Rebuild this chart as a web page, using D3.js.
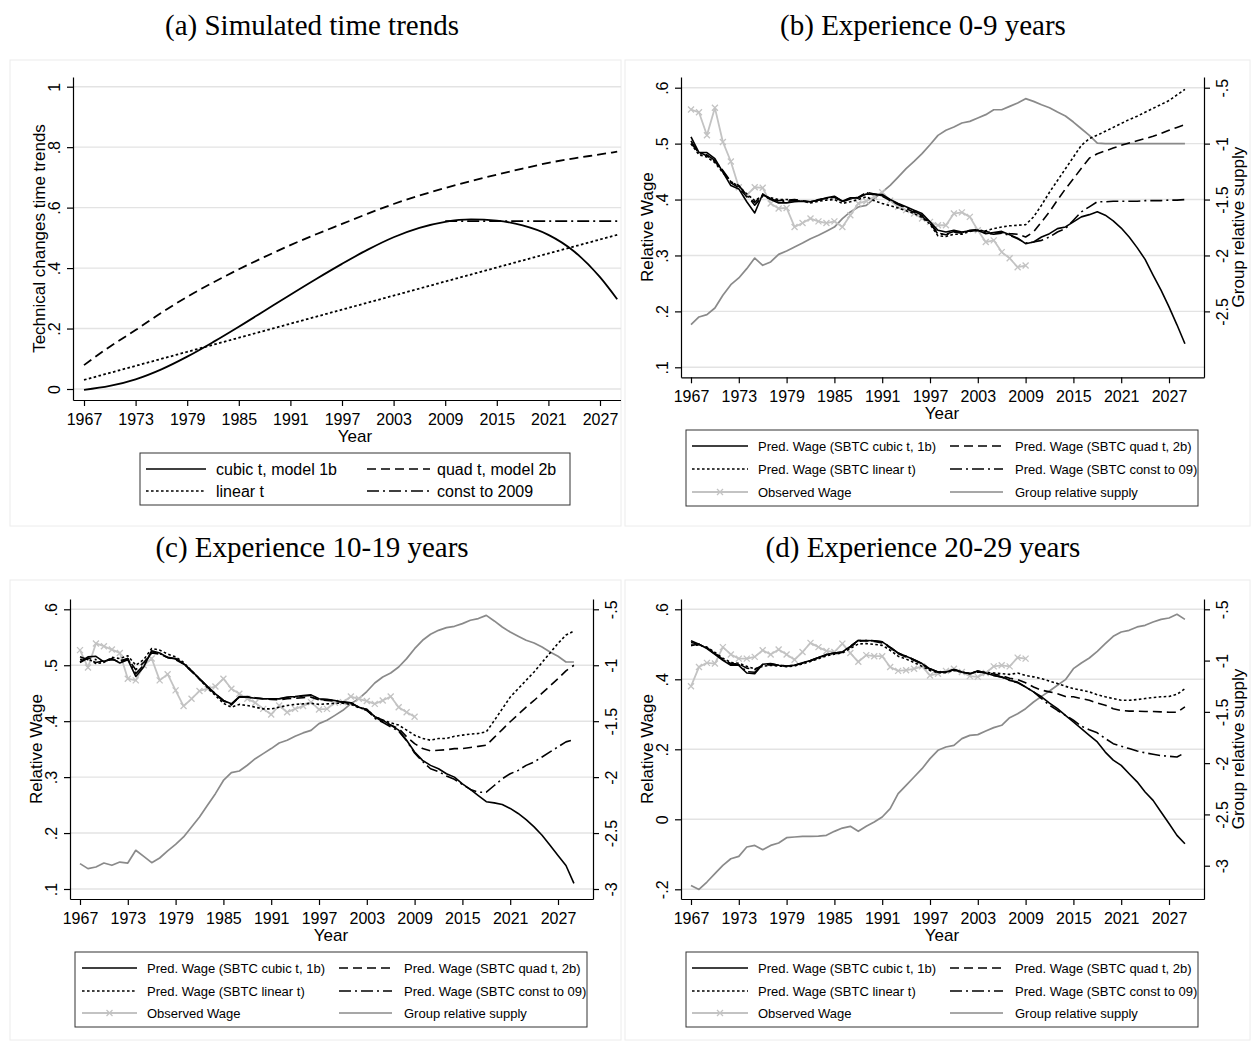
<!DOCTYPE html>
<html lang="en">
<head>
<meta charset="utf-8">
<title>Relative wage simulations</title>
<script src="https://d3js.org/d3.v7.min.js"></script>
<style>
  body { margin: 0; background: #fff; }
  svg { display: block; }
  .title { font-family: "Liberation Serif", "Times New Roman", serif; font-size: 29px; fill: #000; }
  .tick text { font-family: "Liberation Sans", Arial, sans-serif; font-size: 16px; fill: #000; }
  .axis-title { font-family: "Liberation Sans", Arial, sans-serif; font-size: 17px; fill: #000; }
  .legend-text { font-family: "Liberation Sans", Arial, sans-serif; fill: #000; }
  .tick line, .domain { stroke: #000; stroke-width: 1.2; }
  .grid { stroke: #e3e3e3; stroke-width: 1.4; }
</style>
</head>
<body>
<div id="vis"></div>
<script>

/* Data */
/* ==== */

var years = [1967,1968,1969,1970,1971,1972,1973,1974,1975,1976,1977,1978,1979,1980,1981,1982,1983,1984,1985,1986,
  1987,1988,1989,1990,1991,1992,1993,1994,1995,1996,1997,1998,1999,2000,2001,2002,2003,2004,2005,2006,
  2007,2008,2009,2010,2011,2012,2013,2014,2015,2016,2017,2018,2019,2020,2021,2022,2023,2024,2025,2026,
  2027,2028,2029];
var obsYears = years.slice(0, 43); // observed wage runs 1967-2009
var tickYears = [1967,1973,1979,1985,1991,1997,2003,2009,2015,2021,2027];

// (a) simulated time trends
var aYears = [1967,1970,1973,1976,1979,1982,1985,1988,1991,1994,1997,2000,2003,2006,2009,2012,2015,2018,2021,2024,2027,2029];
var aCubic = [-0.003,0.010,0.032,0.065,0.107,0.155,0.206,0.259,0.312,0.364,0.414,0.461,0.502,0.533,0.553,0.561,0.557,0.541,0.510,0.455,0.370,0.297];
var aQuad  = [0.079,0.140,0.195,0.252,0.305,0.352,0.396,0.437,0.476,0.512,0.546,0.580,0.612,0.640,0.665,0.688,0.709,0.729,0.748,0.763,0.776,0.785];
var aLinearYears = [1967,1979,1991,2003,2015,2029];
var aLinear = [0.030,0.123,0.216,0.309,0.402,0.510];
var aConstYears = [2009,2029];
var aConst = [0.555,0.555];

// (b) experience 0-9 years
var bCubic = [.512,.484,.484,.473,.449,.425,.419,.396,.376,.410,
  .400,.394,.394,.396,.397,.396,.399,.403,.406,.397,
  .403,.403,.410,.409,.409,.400,.393,.387,.381,.375,
  .360,.345,.342,.345,.342,.344,.345,.339,.341,.343,
  .337,.331,.321,.324,.333,.339,.348,.351,.360,.369,
  .373,.378,.372,.362,.349,.333,.314,.293,.265,.238,
  .208,.176,.142];
var bQuad = [.500,.485,.478,.468,.450,.430,.421,.405,.395,.408,
  .402,.398,.399,.400,.398,.396,.400,.402,.404,.396,
  .401,.403,.413,.410,.406,.398,.391,.384,.377,.370,
  .358,.340,.337,.342,.340,.345,.346,.343,.340,.341,
  .339,.338,.333,.342,.360,.378,.399,.419,.437,.456,
  .474,.482,.487,.492,.497,.501,.505,.509,.513,.518,
  .524,.529,.534];
var bLinear = [.500,.480,.476,.466,.448,.432,.424,.410,.398,.407,
  .403,.400,.400,.399,.397,.394,.397,.399,.400,.393,
  .396,.400,.405,.398,.393,.389,.385,.380,.375,.368,
  .356,.335,.334,.338,.338,.343,.345,.344,.348,.351,
  .353,.354,.355,.369,.390,.413,.434,.455,.476,.497,
  .509,.515,.522,.529,.536,.543,.549,.556,.563,.570,
  .577,.587,.597];
var bConst = [.505,.482,.480,.470,.452,.432,.425,.408,.390,.406,
  .401,.397,.397,.398,.397,.396,.399,.402,.405,.397,
  .402,.404,.412,.410,.407,.399,.392,.386,.379,.372,
  .358,.338,.338,.343,.341,.344,.345,.340,.338,.340,
  .336,.330,.322,.324,.327,.333,.342,.348,.363,.378,
  .387,.396,.396,.397,.397,.397,.397,.398,.398,.398,
  .399,.399,.400];
var bObs = [.561,.556,.515,.564,.503,.468,.422,.408,.422,.421,
  .393,.384,.385,.351,.358,.366,.361,.358,.361,.351,
  .372,.393,.397,.405,.413,.398,.387,.381,.375,.366,
  .360,.354,.354,.375,.377,.369,.345,.324,.327,.306,
  .295,.279,.282];
var bSupply = [-2.619,-2.550,-2.529,-2.470,-2.356,-2.261,-2.201,-2.118,-2.023,-2.088,
  -2.058,-1.990,-1.960,-1.924,-1.889,-1.850,-1.820,-1.784,-1.746,-1.671,
  -1.611,-1.567,-1.552,-1.492,-1.433,-1.373,-1.299,-1.224,-1.159,-1.090,
  -1.010,-0.926,-0.881,-0.852,-0.816,-0.801,-0.771,-0.741,-0.697,-0.697,
  -0.667,-0.637,-0.598,-0.622,-0.652,-0.679,-0.718,-0.753,-0.807,-0.867,
  -0.926,-0.995,-1.000,-1.000,-1.000,-1.000,-1.000,-1.000,-1.000,-1.000,
  -1.000,-1.000,-1.000];

// (c) experience 10-19 years
var cCubic = [.506,.515,.516,.506,.512,.504,.510,.480,.497,.526,
  .522,.514,.512,.503,.490,.476,.462,.449,.437,.431,
  .444,.443,.441,.440,.440,.440,.443,.444,.446,.447,
  .440,.439,.437,.434,.433,.425,.421,.408,.402,.393,
  .384,.366,.345,.330,.321,.315,.306,.300,.288,.278,
  .267,.256,.254,.251,.244,.235,.224,.211,.196,.178,
  .160,.142,.110];
var cQuad = [.515,.510,.505,.508,.510,.508,.512,.492,.505,.522,
  .520,.514,.510,.502,.489,.475,.461,.448,.436,.429,
  .443,.444,.442,.440,.439,.438,.440,.441,.442,.443,
  .438,.437,.436,.434,.432,.425,.419,.408,.399,.393,
  .387,.372,.360,.351,.347,.348,.349,.351,.351,.353,
  .355,.357,.371,.385,.399,.412,.425,.437,.450,.463,
  .476,.490,.500];
var cLinear = [.510,.512,.503,.505,.514,.512,.517,.500,.510,.530,
  .527,.520,.515,.505,.490,.475,.460,.446,.432,.425,
  .430,.428,.425,.422,.422,.425,.428,.430,.431,.432,
  .430,.431,.432,.432,.430,.424,.421,.408,.402,.397,
  .393,.384,.375,.369,.366,.369,.369,.373,.375,.377,
  .378,.381,.401,.422,.443,.458,.473,.488,.505,.522,
  .539,.554,.561];
var cConst = [.505,.513,.510,.507,.511,.505,.512,.485,.500,.524,
  .521,.514,.511,.503,.490,.476,.462,.449,.437,.430,
  .443,.443,.441,.440,.440,.440,.442,.443,.445,.446,
  .439,.438,.437,.434,.433,.425,.421,.405,.398,.390,
  .382,.365,.343,.328,.315,.310,.302,.296,.287,.278,
  .273,.273,.285,.297,.306,.312,.321,.327,.336,.345,
  .354,.363,.367];
var cObs = [.527,.496,.539,.534,.528,.522,.476,.473,.500,.512,
  .473,.484,.455,.427,.440,.454,.458,.462,.476,.458,
  .449,.440,.433,.422,.412,.428,.416,.422,.427,.434,
  .421,.422,.433,.434,.444,.440,.436,.431,.437,.444,
  .425,.416,.408];
var cSupply = [-2.773,-2.818,-2.803,-2.768,-2.788,-2.759,-2.768,-2.654,-2.708,-2.765,
  -2.723,-2.660,-2.601,-2.535,-2.446,-2.356,-2.252,-2.148,-2.030,-1.960,
  -1.945,-1.894,-1.835,-1.790,-1.745,-1.695,-1.671,-1.635,-1.605,-1.582,
  -1.522,-1.492,-1.448,-1.403,-1.343,-1.299,-1.235,-1.159,-1.105,-1.069,
  -1.016,-0.941,-0.852,-0.777,-0.723,-0.688,-0.664,-0.652,-0.628,-0.598,
  -0.583,-0.554,-0.604,-0.658,-0.703,-0.741,-0.777,-0.801,-0.837,-0.881,
  -0.920,-0.971,-0.971];

// (d) experience 20-29 years
var dCubic = [.510,.500,.488,.471,.454,.440,.440,.418,.416,.443,
  .445,.440,.438,.440,.447,.454,.462,.471,.475,.478,
  .494,.511,.511,.510,.507,.492,.475,.466,.456,.445,
  .430,.421,.421,.428,.421,.416,.424,.418,.411,.407,
  .397,.392,.378,.364,.350,.332,.316,.297,.278,.259,
  .240,.221,.192,.169,.154,.130,.107,.078,.054,.021,
  -.012,-.046,-.070];
var dQuad = [.497,.500,.490,.475,.457,.445,.444,.432,.428,.440,
  .442,.440,.438,.440,.446,.453,.461,.470,.474,.477,
  .492,.509,.510,.508,.504,.490,.473,.464,.454,.443,
  .428,.420,.421,.427,.421,.416,.421,.418,.415,.410,
  .403,.399,.390,.378,.369,.364,.359,.351,.350,.345,
  .340,.332,.326,.316,.311,.309,.309,.308,.308,.307,
  .306,.306,.321];
var dLinear = [.497,.498,.492,.477,.460,.448,.446,.437,.430,.437,
  .440,.438,.436,.438,.444,.451,.459,.467,.472,.475,
  .488,.501,.502,.500,.497,.483,.466,.458,.448,.437,
  .425,.419,.419,.425,.420,.417,.421,.420,.418,.416,
  .414,.418,.411,.407,.402,.395,.388,.380,.373,.369,
  .364,.356,.350,.345,.340,.340,.342,.345,.348,.350,
  .351,.357,.373];
var dConst = [.505,.500,.489,.473,.456,.442,.442,.422,.420,.442,
  .444,.440,.438,.440,.447,.454,.462,.471,.475,.478,
  .494,.511,.511,.510,.507,.492,.475,.466,.456,.445,
  .430,.421,.421,.428,.421,.416,.424,.418,.411,.406,
  .397,.390,.378,.364,.345,.326,.311,.297,.283,.266,
  .256,.247,.231,.216,.209,.202,.195,.190,.186,.182,
  .180,.178,.190];
var dObs = [.380,.435,.447,.445,.492,.471,.459,.459,.464,.483,
  .471,.485,.471,.456,.478,.504,.492,.481,.478,.502,
  .475,.450,.469,.466,.466,.435,.424,.426,.430,.437,
  .411,.416,.424,.430,.421,.409,.407,.418,.437,.440,
  .437,.462,.459];
var dSupply = [-3.192,-3.231,-3.159,-3.078,-2.997,-2.932,-2.909,-2.818,-2.802,-2.844,
  -2.802,-2.779,-2.727,-2.720,-2.714,-2.714,-2.711,-2.704,-2.665,-2.633,
  -2.616,-2.665,-2.616,-2.574,-2.525,-2.444,-2.298,-2.216,-2.135,-2.054,
  -1.956,-1.875,-1.843,-1.826,-1.761,-1.729,-1.722,-1.687,-1.654,-1.631,
  -1.557,-1.518,-1.469,-1.404,-1.349,-1.297,-1.241,-1.186,-1.079,-1.023,
  -0.975,-0.910,-0.835,-0.763,-0.721,-0.705,-0.672,-0.656,-0.624,-0.598,
  -0.585,-0.549,-0.598];


/* Styles */
/* ====== */

var styles = {
  cubic:  { stroke: '#000', width: 1.6, dash: null },
  quad:   { stroke: '#000', width: 1.6, dash: '9,5' },
  linear: { stroke: '#000', width: 1.6, dash: '2.6,2.4' },
  konst:  { stroke: '#000', width: 1.6, dash: '12,4,2,4' },
  obs:    { stroke: '#c3c3c3', width: 1.8, dash: null, marker: true },
  supply: { stroke: '#8a8a8a', width: 1.7, dash: null }
};

var wageLegend = [
  ['cubic', 'Pred. Wage (SBTC cubic t, 1b)'], ['quad', 'Pred. Wage (SBTC quad t, 2b)'],
  ['linear', 'Pred. Wage (SBTC linear t)'], ['konst', 'Pred. Wage (SBTC const to 09)'],
  ['obs', 'Observed Wage'], ['supply', 'Group relative supply']
];

// Stata style labels: ".6", "-.5", plain hyphen minus
var fmt = function(d) { return String(+d.toFixed(2)).replace(/^(-?)0\./, '$1.'); };


/* SVG */
/* === */

var svg = d3.select('#vis').append('svg')
    .attr('width', 1252)
    .attr('height', 1043);

svg.append('rect').attr('width', 1252).attr('height', 1043).attr('fill', '#fff');

var defs = svg.append('defs');

function xMarks(g, pts, st) {
  g.selectAll(null).data(pts).enter().append('path')
      .attr('d', function(d) { return 'M' + (d[0]-3) + ',' + (d[1]-3) + 'L' + (d[0]+3) + ',' + (d[1]+3) +
        'M' + (d[0]-3) + ',' + (d[1]+3) + 'L' + (d[0]+3) + ',' + (d[1]-3); })
      .attr('stroke', st.stroke)
      .attr('stroke-width', 1.3);
}

function drawLine(g, xs, ys, st, x, y) {
  var pts = xs.map(function(t, i) { return [x(t), y(ys[i])]; });
  var line = d3.line();
  g.append('path')
      .attr('d', line(pts))
      .attr('fill', 'none')
      .attr('stroke', st.stroke)
      .attr('stroke-width', st.width)
      .attr('stroke-dasharray', st.dash)
      .attr('stroke-linejoin', 'round');
  if (st.marker) xMarks(g, pts, st);
}

function drawSmooth(g, xs, ys, st, x, y) {
  var line = d3.line().curve(d3.curveMonotoneX)
      .x(function(d) { return x(d[0]); })
      .y(function(d) { return y(d[1]); });
  g.append('path')
      .attr('d', line(xs.map(function(t, i) { return [t, ys[i]]; })))
      .attr('fill', 'none')
      .attr('stroke', st.stroke)
      .attr('stroke-width', st.width)
      .attr('stroke-dasharray', st.dash);
}

function drawLegend(L, items) {
  var g = svg.append('g');
  g.append('rect')
      .attr('x', L.x).attr('y', L.y).attr('width', L.w).attr('height', L.h)
      .attr('fill', '#fff').attr('stroke', '#333').attr('stroke-width', 1);
  items.forEach(function(it, i) {
    var col = i % 2, row = Math.floor(i / 2);
    var cy = L.rows[row];
    var st = styles[it[0]];
    var lx0 = L.cols[col][0], lx1 = L.cols[col][1];
    g.append('line')
        .attr('x1', lx0).attr('x2', lx1).attr('y1', cy).attr('y2', cy)
        .attr('stroke', st.stroke).attr('stroke-width', st.width)
        .attr('stroke-dasharray', st.dash);
    if (st.marker) xMarks(g, [[(lx0 + lx1) / 2, cy]], st);
    g.append('text')
        .attr('class', 'legend-text')
        .attr('x', L.cols[col][2]).attr('y', cy)
        .attr('dy', '0.35em')
        .style('font-size', L.font + 'px')
        .text(it[1]);
  });
}


/* Panels */
/* ====== */

function drawPanel(p) {

  // faint frame round the graph region
  svg.append('rect')
      .attr('x', p.frame[0]).attr('y', p.frame[1])
      .attr('width', p.frame[2] - p.frame[0]).attr('height', p.frame[3] - p.frame[1])
      .attr('fill', 'none').attr('stroke', '#ececec').attr('stroke-width', 1);

  svg.append('text')
      .attr('class', 'title')
      .attr('x', p.titleX).attr('y', p.titleY)
      .attr('text-anchor', 'middle')
      .text(p.title);

  var clipId = 'clip' + p.id;
  defs.append('clipPath').attr('id', clipId)
    .append('rect')
      .attr('x', p.frame[0]).attr('y', p.frame[1])
      .attr('width', p.frame[2] - p.frame[0]).attr('height', p.frame[3] - p.frame[1]);

  var g = svg.append('g').attr('clip-path', 'url(#' + clipId + ')');

  // Scales: anchored on the tick positions, then stretched to the plot edges
  var x = d3.scaleLinear().domain([1967, 2027]).range([p.x1967, p.x2027]);
  x.domain([x.invert(p.left), x.invert(p.right)]).range([p.left, p.right]);

  var y = d3.scaleLinear().domain(p.yRef).range(p.yRefPx);
  y.domain([y.invert(p.bottom), y.invert(p.top)]).range([p.bottom, p.top]);

  var yR = null;
  if (p.rRef) {
    yR = d3.scaleLinear().domain(p.rRef).range(p.rRefPx);
    yR.domain([yR.invert(p.bottom), yR.invert(p.top)]).range([p.bottom, p.top]);
  }

  // Gridlines
  g.selectAll('.grid-' + p.id).data(p.yTicks).enter().append('line')
      .attr('class', 'grid')
      .attr('x1', p.left).attr('x2', p.right)
      .attr('y1', function(d) { return y(d); })
      .attr('y2', function(d) { return y(d); });

  // Series
  p.series(g, x, y, yR);

  // Axes
  var xAxis = d3.axisBottom(x).tickValues(tickYears).tickFormat(d3.format('d'))
      .tickSize(6).tickSizeOuter(0);
  var gx = g.append('g')
      .attr('transform', 'translate(0,' + p.bottom + ')')
      .call(xAxis);
  gx.selectAll('text').attr('y', 25).attr('dy', 0);

  var yAxis = d3.axisLeft(y).tickValues(p.yTicks).tickFormat(fmt).tickSize(6).tickSizeOuter(0);
  var gy = g.append('g')
      .attr('transform', 'translate(' + p.left + ',0)')
      .call(yAxis);
  gy.selectAll('text')
      .attr('transform', 'rotate(-90)')
      .attr('x', 0).attr('y', -13).attr('dy', 0)
      .attr('text-anchor', 'middle');

  if (yR) {
    var rAxis = d3.axisRight(yR).tickValues(p.rTicks).tickFormat(fmt).tickSize(6).tickSizeOuter(0);
    var gr = g.append('g')
        .attr('transform', 'translate(' + p.right + ',0)')
        .call(rAxis);
    gr.selectAll('text')
        .attr('transform', 'rotate(-90)')
        .attr('x', 0).attr('y', 24).attr('dy', 0)
        .attr('text-anchor', 'middle');
  }
  svg.selectAll('.domain').attr('fill', 'none');

  // Axis titles
  svg.append('text')
      .attr('class', 'axis-title')
      .attr('x', p.yearX).attr('y', p.bottom + 42)
      .attr('text-anchor', 'middle')
      .text('Year');

  var cy = (p.top + p.bottom) / 2;
  svg.append('text')
      .attr('class', 'axis-title')
      .attr('transform', 'translate(' + (p.left - 28) + ',' + cy + ') rotate(-90)')
      .attr('text-anchor', 'middle')
      .text(p.yTitle);

  if (p.rTitle) {
    svg.append('text')
        .attr('class', 'axis-title')
        .attr('transform', 'translate(' + (p.right + 40) + ',' + cy + ') rotate(-90)')
        .attr('text-anchor', 'middle')
        .text(p.rTitle);
  }

  drawLegend(p.legend, p.legendItems);
}

function wageSeries(cub, quad, lin, kon, obs, sup) {
  return function(g, x, y, yR) {
    drawLine(g, years, sup, styles.supply, x, yR);
    drawLine(g, obsYears, obs, styles.obs, x, y);
    drawLine(g, years, kon, styles.konst, x, y);
    drawLine(g, years, lin, styles.linear, x, y);
    drawLine(g, years, quad, styles.quad, x, y);
    drawLine(g, years, cub, styles.cubic, x, y);
  };
}

// (a)
drawPanel({
  id: 'a', title: '(a) Simulated time trends', titleX: 312, titleY: 35,
  frame: [10, 60, 621, 526],
  left: 73, right: 637, top: 77, bottom: 400,
  x1967: 84, x2027: 600,
  yRef: [0, 1], yRefPx: [389, 86.7], yTicks: [0, 0.2, 0.4, 0.6, 0.8, 1],
  yTitle: 'Technical changes time trends', yearX: 355,
  series: function(g, x, y) {
    var thick = function(s) { return Object.assign({}, s, { width: 1.8 }); };
    drawSmooth(g, aConstYears, aConst, thick(styles.konst), x, y);
    drawSmooth(g, aLinearYears, aLinear, thick(styles.linear), x, y);
    drawSmooth(g, aYears, aQuad, thick(styles.quad), x, y);
    drawSmooth(g, aYears, aCubic, thick(styles.cubic), x, y);
  },
  legend: { x: 140, y: 453, w: 430, h: 52, rows: [469, 491], font: 16,
    cols: [[146, 206, 216], [367, 430, 437]] },
  legendItems: [['cubic', 'cubic t, model 1b'], ['quad', 'quad t, model 2b'],
    ['linear', 'linear t'], ['konst', 'const to 2009']]
});

// (b)
drawPanel({
  id: 'b', title: '(b) Experience 0-9 years', titleX: 923, titleY: 35,
  frame: [625, 60, 1250, 526],
  left: 681, right: 1204, top: 77, bottom: 377.3,
  x1967: 691, x2027: 1169,
  yRef: [0.1, 0.6], yRefPx: [367.3, 87.7], yTicks: [0.1, 0.2, 0.3, 0.4, 0.5, 0.6],
  rRef: [-3, -0.5], rRefPx: [367.3, 87.7], rTicks: [-2.5, -2, -1.5, -1, -0.5],
  yTitle: 'Relative Wage', rTitle: 'Group relative supply', yearX: 942,
  series: wageSeries(bCubic, bQuad, bLinear, bConst, bObs, bSupply),
  legend: { x: 686, y: 430, w: 512, h: 76, rows: [446, 469, 492], font: 13,
    cols: [[692, 748, 758], [950, 1003, 1015]] },
  legendItems: wageLegend
});

// (c)
drawPanel({
  id: 'c', title: '(c) Experience 10-19 years', titleX: 312, titleY: 557,
  frame: [10, 580, 621, 1040],
  left: 70, right: 593, top: 599, bottom: 899,
  x1967: 80, x2027: 558,
  yRef: [0.1, 0.6], yRefPx: [889, 609.3], yTicks: [0.1, 0.2, 0.3, 0.4, 0.5, 0.6],
  rRef: [-3, -0.5], rRefPx: [889, 609.3], rTicks: [-3, -2.5, -2, -1.5, -1, -0.5],
  yTitle: 'Relative Wage', rTitle: null, yearX: 331,
  series: wageSeries(cCubic, cQuad, cLinear, cConst, cObs, cSupply),
  legend: { x: 75, y: 952, w: 512, h: 75, rows: [968, 991, 1013], font: 13,
    cols: [[82, 137, 147], [339, 392, 404]] },
  legendItems: wageLegend
});

// (d)
drawPanel({
  id: 'd', title: '(d) Experience 20-29 years', titleX: 923, titleY: 557,
  frame: [625, 580, 1250, 1040],
  left: 681, right: 1204, top: 599, bottom: 899,
  x1967: 691, x2027: 1169,
  yRef: [-0.2, 0.6], yRefPx: [889.3, 609.3], yTicks: [-0.2, 0, 0.2, 0.4, 0.6],
  rRef: [-3, -0.5], rRefPx: [865.7, 609.3], rTicks: [-3, -2.5, -2, -1.5, -1, -0.5],
  yTitle: 'Relative Wage', rTitle: 'Group relative supply', yearX: 942,
  series: wageSeries(dCubic, dQuad, dLinear, dConst, dObs, dSupply),
  legend: { x: 686, y: 952, w: 512, h: 75, rows: [968, 991, 1013], font: 13,
    cols: [[692, 748, 758], [950, 1003, 1015]] },
  legendItems: wageLegend
});

</script>
</body>
</html>
